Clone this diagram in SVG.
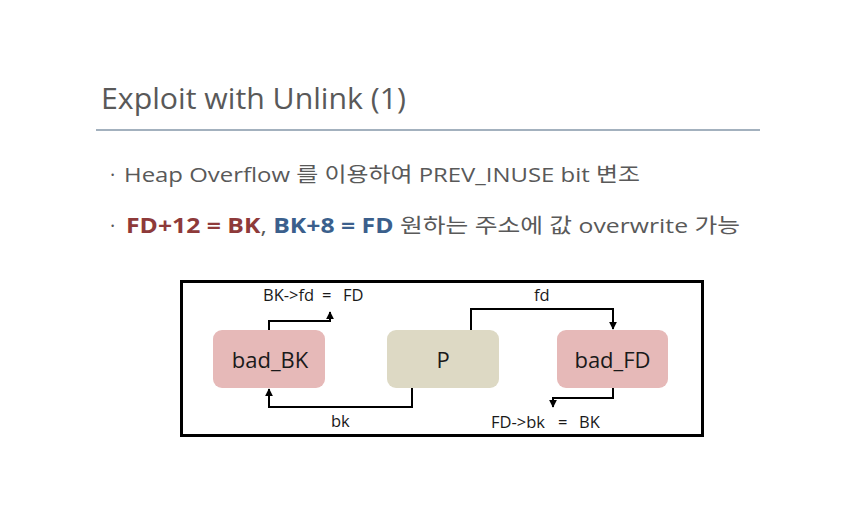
<svg xmlns="http://www.w3.org/2000/svg" width="851" height="510" viewBox="0 0 851 510">
<defs>
<style>
.t{font-family:"Open Sans","Noto Sans CJK KR","Noto Sans",sans-serif;fill:#595959}
.n{font-family:"Open Sans","Noto Sans CJK KR",sans-serif;font-size:22px;fill:#1a1a1a;text-anchor:middle}
.l{font-family:"Open Sans","Noto Sans CJK KR",sans-serif;font-size:16.5px;fill:#1a1a1a}
.c{fill:none;stroke:#000;stroke-width:2}
.red{fill:#8e3a3a;font-weight:bold}
.blue{fill:#3b5f8c;font-weight:bold}
</style>
<marker id="ah" viewBox="0 0 10 10" refX="9" refY="5" markerWidth="4" markerHeight="4" orient="auto" markerUnits="strokeWidth">
<path d="M0,0 L10,5 L0,10 Z" fill="#000"/>
</marker>
</defs>
<rect width="851" height="510" fill="#fff"/>
<text class="t" x="101" y="109" font-size="29" textLength="305" lengthAdjust="spacingAndGlyphs">Exploit with Unlink (1)</text>
<line x1="96" y1="130" x2="760" y2="130" stroke="#8497a8" stroke-width="1.3"/>
<text class="t" x="110" y="182" font-size="20">·</text>
<text class="t" x="124" y="182" font-size="20.5" textLength="516" lengthAdjust="spacingAndGlyphs">Heap Overflow 를 이용하여 PREV_INUSE bit 변조</text>
<text class="t" x="110" y="233" font-size="20">·</text>
<text class="t" x="126" y="233" font-size="20.5" textLength="614" lengthAdjust="spacingAndGlyphs"><tspan class="red">FD+12 = BK</tspan>, <tspan class="blue">BK+8 = FD</tspan> 원하는 주소에 값 overwrite 가능</text>
<rect x="181.5" y="281.5" width="521" height="154" fill="none" stroke="#000" stroke-width="3"/>
<g id="bad_BK"><rect x="213" y="330" width="112" height="58" rx="9" fill="#e6b9b8"/><text class="n" x="270" y="368">bad_BK</text></g>
<g id="P"><rect x="387" y="330" width="112" height="58" rx="9" fill="#ddd9c4"/><text class="n" x="443" y="368">P</text></g>
<g id="bad_FD"><rect x="557" y="330" width="111" height="58" rx="9" fill="#e6b9b8"/><text class="n" x="612.5" y="368">bad_FD</text></g>
<g id="connectors">
<polyline class="c" points="269,330 269,321 330,321 330,312" marker-end="url(#ah)"/>
<polyline class="c" points="412,388 412,407 269,407 269,389" marker-end="url(#ah)"/>
<polyline class="c" points="471,330 471,309 613,309 613,329" marker-end="url(#ah)"/>
<polyline class="c" points="613,388 613,398 553,398 553,407" marker-end="url(#ah)"/>
</g>
<text class="l" y="301"><tspan x="263">BK-&gt;fd</tspan><tspan x="322">=</tspan><tspan x="343">FD</tspan></text>
<text class="l" x="534" y="301">fd</text>
<text class="l" x="331" y="427">bk</text>
<text class="l" y="428"><tspan x="491">FD-&gt;bk</tspan><tspan x="558">=</tspan><tspan x="579">BK</tspan></text>
</svg>
